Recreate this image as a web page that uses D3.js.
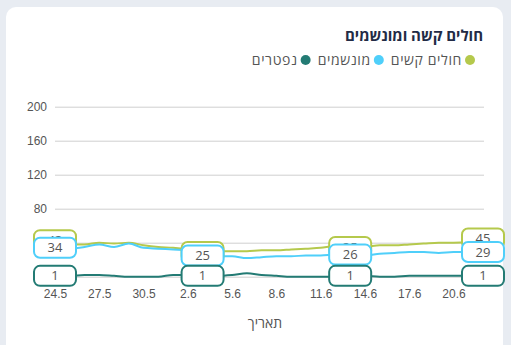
<!DOCTYPE html>
<html><head><meta charset="utf-8">
<script src="https://cdn.jsdelivr.net/npm/d3@7"></script>
<style>
html,body{margin:0;padding:0;background:#e8ecf2;}
svg{display:block;font-family:"Open Sans","Noto Sans","DejaVu Sans",sans-serif;}
</style></head>
<body><svg id="c" width="511" height="345"></svg>
<script>
const dates = ["24.5","25.5","26.5","27.5","28.5","29.5","30.5","31.5","1.6","2.6","3.6","4.6","5.6","6.6","7.6","8.6","9.6","10.6","11.6","12.6","13.6","14.6","15.6","16.6","17.6","18.6","19.6","20.6","21.6","22.6"];
const severe =     [43,38,38,40,39,40,37,35,34,32,29,30,30,30,31,31,32,33,34,36,35,35,37,37,38,39,40,40,41,45];
const ventilated = [34,33,35,38,35,39,34,33,32,31,25,24,24,22,23,24,24,25,25,26,26,25,27,28,29,29,28,29,29,29];
const deceased =   [1,1,2,2,1,0,0,0,2,2,1,1,2,4,2,1,0,0,0,0,1,1,0,0,1,1,1,1,1,1];
const yTicks = [0,40,80,120,160,200];
const xTickIdx = [0,3,6,9,12,15,18,21,24,27];
const labelIdx = [0,10,20,29];
const seriesNames = ["חולים קשים","מונשמים","נפטרים"];
const colors = ["#b5c94c","#4fcffa","#237b74"];
const title = "חולים קשה ומונשמים";
const xTitle = "תאריך";

const svg = d3.select("#c");
svg.append("rect").attr("x",6).attr("y",7).attr("width",497).attr("height",360).attr("rx",10).attr("fill","#fff");

const x = d3.scaleLinear().domain([0,dates.length-1]).range([55,483]);
const y = d3.scaleLinear().domain([0,200]).range([276.7,106.7]);

const yAxis = d3.axisLeft(y).tickValues(yTicks).tickSize(-(484-55)).tickPadding(8);
const gy = svg.append("g").attr("transform","translate(55,0)").call(yAxis);
gy.select(".domain").remove();
gy.selectAll(".tick line").attr("stroke","#cfcfcf").attr("x1",0).attr("x2",429);
gy.selectAll(".tick text").attr("fill","#555").attr("font-size",12).attr("x",-8);

const xAxis = d3.axisBottom(x).tickValues(xTickIdx).tickFormat(i=>dates[i]).tickSize(0).tickPadding(0);
const gx = svg.append("g").attr("transform","translate(0,294)").call(xAxis);
gx.select(".domain").remove();
gx.selectAll(".tick text").attr("fill","#555").attr("font-size",12).attr("dy","0.32em").attr("y",0);

const all = [severe, ventilated, deceased];
const line = d3.line().x((d,i)=>x(i)).y(d=>y(d)).curve(d3.curveMonotoneX);
all.forEach((s,k)=>{
  svg.append("path").datum(s).attr("d",line).attr("fill","none").attr("stroke",colors[k]).attr("stroke-width",2);
});
all.forEach((s,k)=>{
  const g = svg.append("g");
  labelIdx.forEach(i=>{
    const cx = x(i), cy = y(s[i]);
    g.append("rect").attr("x",cx-21).attr("y",cy-10).attr("width",42).attr("height",20).attr("rx",6)
      .attr("fill","#fff").attr("stroke",colors[k]).attr("stroke-width",2);
    g.append("text").attr("x",cx).attr("y",cy).attr("dy","0.35em").attr("text-anchor","middle")
      .attr("font-size",13).attr("fill","#555").text(s[i]);
  });
});

svg.append("text").attr("x",483).attr("y",41).attr("text-anchor","end").attr("font-size",15).attr("font-weight","bold").attr("fill","#222b45").text(title);
let cx0 = 470;
seriesNames.forEach((n,k)=>{
  svg.append("circle").attr("cx",cx0).attr("cy",60).attr("r",5).attr("fill",colors[k]);
  const t = svg.append("text").attr("x",cx0-8).attr("y",60).attr("dy","0.35em").attr("text-anchor","end")
    .attr("font-size",14).attr("letter-spacing","0.6px").attr("fill","#555").text(n);
  cx0 = cx0-8 - t.node().getComputedTextLength() - 12;
});
svg.append("text").attr("x",265).attr("y",323).attr("dy","0.35em").attr("text-anchor","middle").attr("font-size",14).attr("fill","#555").text(xTitle);
</script></body></html>
